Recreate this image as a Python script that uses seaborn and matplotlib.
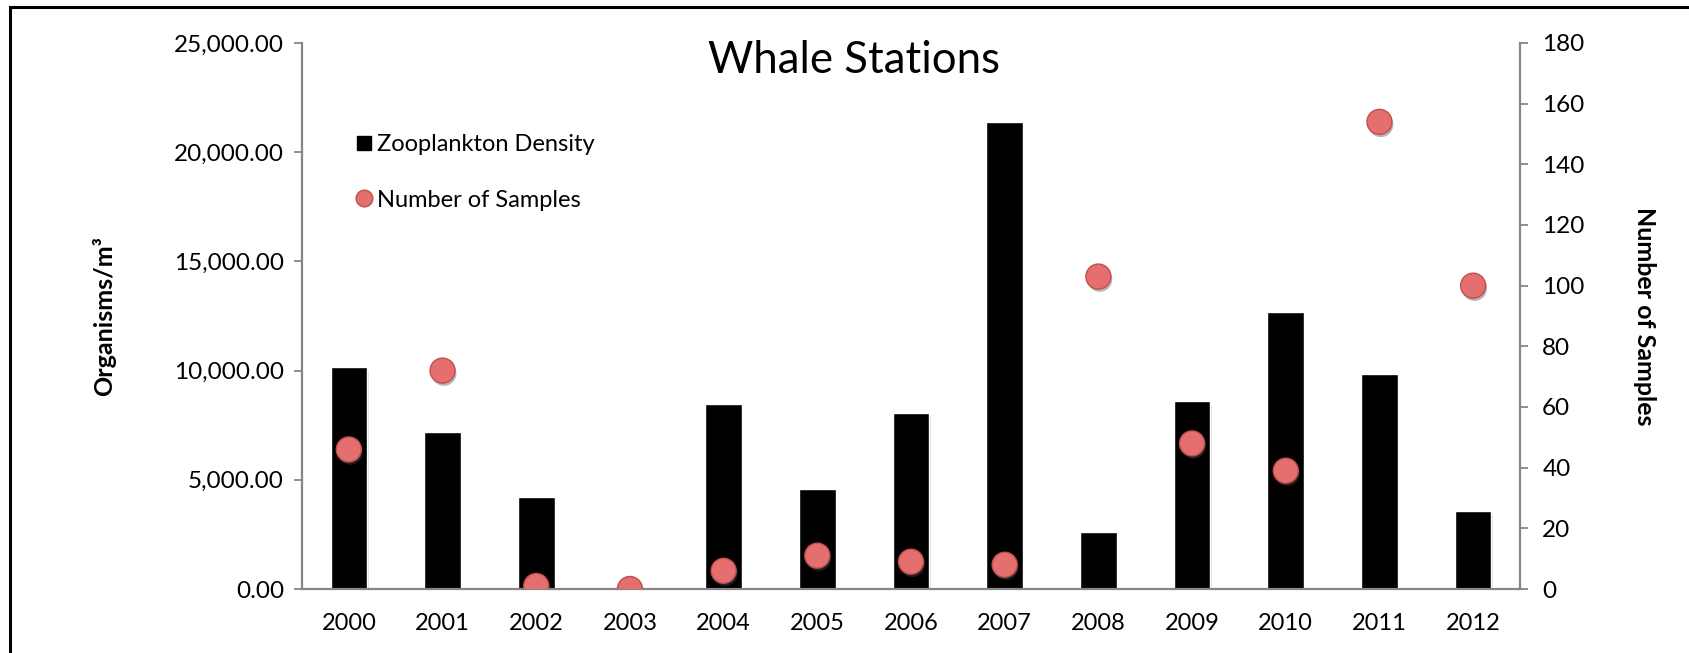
import numpy as np
import pandas as pd
import matplotlib
matplotlib.use("Agg")
import matplotlib.pyplot as plt
import matplotlib.patheffects as pe
from matplotlib.lines import Line2D
from matplotlib.patches import Rectangle
from matplotlib.ticker import FuncFormatter, FixedLocator
import seaborn as sns

# Survey years and yearly values
years = ["2000", "2001", "2002", "2003", "2004", "2005", "2006",
         "2007", "2008", "2009", "2010", "2011", "2012"]
density = [10150, 7200, 4190, 0, 8480, 4560, 8070,
           21390, 2630, 8590, 12680, 9850, 3590]          # organisms per m^3
samples = [46, 72, 1, 0, 6, 11, 9, 8, 103, 48, 39, 154, 100]

df = pd.DataFrame({"Year": years, "Density": density, "Samples": samples})

sns.set_style("white")
plt.rcParams["font.family"] = ["Lato", "DejaVu Sans"]
plt.rcParams["text.color"] = "black"
plt.rcParams["axes.labelcolor"] = "black"

axis_grey = "#868686"
dot_face = "#E56E6F"
dot_edge = "#C0504D"

fig = plt.figure(figsize=(16.9, 6.53), dpi=100)
ax = fig.add_axes([302 / 1690, 1 - 589 / 653, (1520 - 302) / 1690, (589 - 43) / 653])

# Density bars on the left axis
sns.barplot(data=df, x="Year", y="Density", color="black", width=0.39,
            saturation=1, ax=ax, zorder=2)
for bar in ax.patches:
    bar.set_path_effects([pe.SimplePatchShadow(offset=(1, -3), shadow_rgbFace="0.6", alpha=0.35),
                          pe.Normal()])

# Sample counts on the right axis
ax2 = ax.twinx()
sns.stripplot(data=df, x="Year", y="Samples", jitter=False, ax=ax2,
              color=dot_face, edgecolor=dot_edge, linewidth=1.0, size=18,
              zorder=3)
for coll in ax2.collections:
    coll.set_path_effects([pe.SimplePatchShadow(offset=(1, -2), shadow_rgbFace="0.3", alpha=0.4),
                           pe.Normal()])

n = len(years)
for a in (ax, ax2):
    a.set_xlim(-0.5, n - 0.5)
    a.grid(False)
    a.set_xlabel("")

ax.set_ylim(0, 25000)
ax2.set_ylim(0, 180)
ax.set_yticks(np.arange(0, 25001, 5000))
ax2.set_yticks(np.arange(0, 181, 20))
ax.yaxis.set_major_formatter(FuncFormatter(lambda v, p: f"{v:,.2f}"))

# Category labels at bar centres, tick marks at category boundaries
ax.set_xticks(range(n))
ax.set_xticklabels(years)
ax.xaxis.set_minor_locator(FixedLocator(np.arange(-0.5, n, 1.0)))
ax.tick_params(axis="x", which="major", length=0, pad=17.5, labelsize=17, labelcolor="black")
ax.tick_params(axis="x", which="minor", length=7, width=1.3, color=axis_grey, direction="out")
ax.tick_params(axis="y", length=6, width=1.3, color=axis_grey, pad=7, labelsize=17.5,
               left=True, labelcolor="black")
ax2.tick_params(axis="y", length=6, width=1.3, color=axis_grey, pad=10, labelsize=17.5,
                right=True, labelcolor="black")

for a in (ax, ax2):
    for side in ("left", "right", "bottom"):
        a.spines[side].set_visible(True)
        a.spines[side].set_color(axis_grey)
        a.spines[side].set_linewidth(1.6)
    a.spines["top"].set_visible(False)
ax.spines["right"].set_visible(False)
ax2.spines["left"].set_visible(False)
ax2.spines["bottom"].set_visible(False)

ax.set_ylabel("Organisms/m³", fontsize=18, fontweight="bold")
ax.yaxis.set_label_coords(-0.153, 0.5)
ax2.set_ylabel("Number of Samples", fontsize=18, fontweight="bold", rotation=270)
ax2.yaxis.set_label_coords(1.112, 0.5)

fig.text(0.5056, 1 - 73.3 / 653, "Whale Stations", fontsize=31.5,
         ha="center", va="baseline")

handles = [
    Line2D([], [], marker="s", linestyle="none", markersize=10, color="black"),
    Line2D([], [], marker="o", linestyle="none", markersize=12,
           markerfacecolor=dot_face, markeredgecolor=dot_edge),
]
ax.legend(handles, ["Zooplankton Density", "Number of Samples"],
          loc="upper left", bbox_to_anchor=(0.0337, 0.850), frameon=False,
          fontsize=17, handletextpad=0.05, handlelength=1.0, labelspacing=1.45,
          borderaxespad=0)

# Chart-area frame
fig.patches.append(Rectangle((9.6 / 1690, -0.2), 1.5, 1 - 7.3 / 653 + 0.2,
                             transform=fig.transFigure, fill=False,
                             edgecolor="black", linewidth=2.2, clip_on=False))

fig.savefig("out.png", dpi=100)
